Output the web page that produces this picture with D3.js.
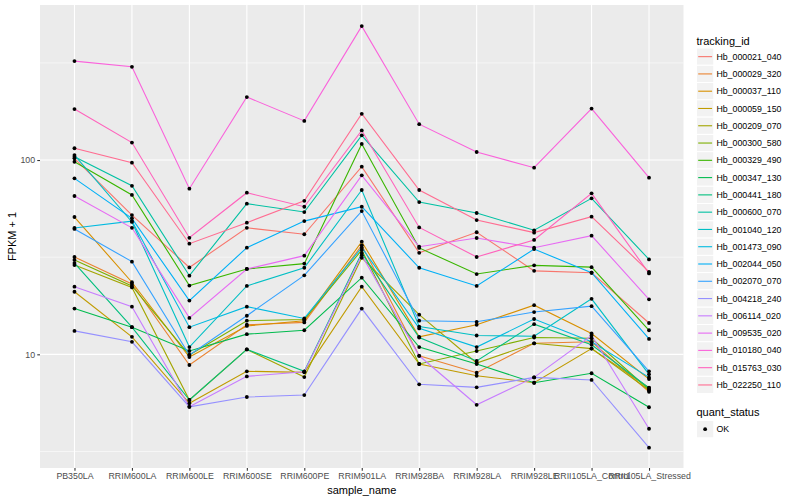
<!DOCTYPE html>
<html>
<head>
<meta charset="utf-8">
<script src="https://cdnjs.cloudflare.com/ajax/libs/d3/7.8.5/d3.min.js"></script>
<style>
  body { margin: 0; background: #fff; }
  text { font-family: "Liberation Sans", Arial, sans-serif; }
</style>
</head>
<body>
<div class="chart"></div>
<script>
// samples on the x axis
var samples = ["PB350LA", "RRIM600LA", "RRIM600LE", "RRIM600SE", "RRIM600PE", "RRIM901LA",
  "RRIM928BA", "RRIM928LA", "RRIM928LE", "RRII105LA_Control", "RRII105LA_Stressed"];

var trackingIds = ["Hb_000021_040", "Hb_000029_320", "Hb_000037_110", "Hb_000059_150",
  "Hb_000209_070", "Hb_000300_580", "Hb_000329_490", "Hb_000347_130", "Hb_000441_180",
  "Hb_000600_070", "Hb_001040_120", "Hb_001473_090", "Hb_002044_050", "Hb_002070_070",
  "Hb_004218_240", "Hb_006114_020", "Hb_009535_020", "Hb_010180_040", "Hb_015763_030",
  "Hb_022250_110"];

// FPKM + 1, one array per gene, in sample order
var hb_000021_040 = [102, 52.1, 28.0, 44.8, 41.5, 92.4, 33.3, 42.5, 26.9, 26.3, 14.5];
var hb_000029_320 = [31.7, 23.0, 8.81, 14.2, 14.6, 36.4, 9.83, 8.04, 11.4, 11.6, 6.42];
var hb_000037_110 = [50.9, 23.5, 9.69, 14.0, 14.9, 38.0, 12.3, 14.2, 17.9, 12.8, 7.46];
var hb_000059_150 = [21.0, 12.3, 5.60, 8.18, 8.08, 22.3, 8.92, 7.76, 7.14, 10.7, 6.73];
var hb_000209_070 = [28.8, 22.1, 5.82, 10.6, 7.64, 31.4, 16.0, 9.02, 11.4, 10.7, 6.53];
var hb_000300_580 = [30.6, 22.5, 9.92, 14.9, 15.1, 34.4, 8.92, 10.4, 12.2, 12.1, 6.57];
var hb_000329_490 = [98.0, 66.1, 22.6, 27.5, 29.3, 121, 35.3, 25.9, 28.7, 28.1, 13.3];
var hb_000347_130 = [17.2, 13.8, 10.4, 12.7, 13.3, 24.8, 10.9, 8.92, 7.14, 7.99, 5.34];
var hb_000441_180 = [29.5, 13.8, 5.82, 10.6, 8.18, 33.2, 12.2, 9.24, 14.3, 11.2, 6.71];
var hb_000600_070 = [104, 73.7, 25.4, 59.6, 54.0, 134, 60.8, 53.4, 43.5, 63.5, 30.8];
var hb_001040_120 = [106, 48.0, 10.9, 22.5, 27.9, 70.1, 13.9, 12.5, 12.4, 19.3, 7.89];
var hb_001473_090 = [44.7, 48.5, 13.8, 17.6, 15.3, 35.4, 13.6, 10.9, 15.2, 11.6, 7.61];
var hb_002044_050 = [80.5, 50.1, 18.9, 35.4, 48.5, 57.5, 27.9, 22.5, 34.8, 26.3, 12.0];
var hb_002070_070 = [44.2, 30.0, 9.92, 15.8, 25.5, 54.6, 14.9, 14.7, 16.5, 17.7, 8.18];
var hb_004218_240 = [13.2, 11.6, 5.37, 6.03, 6.17, 17.2, 7.01, 6.76, 7.61, 7.38, 3.31];
var hb_006114_020 = [22.3, 17.6, 5.37, 7.70, 8.14, 32.4, 9.83, 5.50, 7.61, 12.5, 4.14];
var hb_009535_020 = [65.3, 44.8, 15.4, 27.5, 32.2, 83.4, 35.8, 39.7, 35.4, 40.8, 19.2];
var hb_010180_040 = [323, 302, 71.2, 211, 159, 489, 153, 110, 91.3, 184, 81.1];
var hb_015763_030 = [183, 123, 39.8, 67.9, 57.5, 142, 45.0, 31.7, 38.8, 67.4, 26.1];
var hb_022250_110 = [115, 96.9, 37.1, 47.6, 61.7, 173, 70.1, 49.1, 42.3, 51.1, 26.6];

var seriesValues = [hb_000021_040, hb_000029_320, hb_000037_110, hb_000059_150, hb_000209_070,
  hb_000300_580, hb_000329_490, hb_000347_130, hb_000441_180, hb_000600_070, hb_001040_120,
  hb_001473_090, hb_002044_050, hb_002070_070, hb_004218_240, hb_006114_020, hb_009535_020,
  hb_010180_040, hb_015763_030, hb_022250_110];

var yMajor = [10, 100];
var yMinor = [3.162, 31.62, 316.2];

// ggplot hue palette, 20 levels
var palette = ["#F8766D", "#EA8331", "#D89000", "#C09B00", "#A3A500", "#7CAE00", "#39B600",
  "#00BB4E", "#00BF7D", "#00C1A3", "#00BFC4", "#00BAE0", "#00B0F6", "#35A2FF", "#9590FF",
  "#C77CFF", "#E76BF3", "#FA62DB", "#FF62BC", "#FF6C91"];

var svgWidth = 800;
var svgHeight = 500;
var margin = {top: 5, right: 116.5, bottom: 32, left: 40};
var width = svgWidth - margin.left - margin.right;
var height = svgHeight - margin.top - margin.bottom;

var svg = d3.select(".chart")
  .append("svg")
  .attr("width", svgWidth)
  .attr("height", svgHeight);

var chartGroup = svg.append("g")
  .attr("transform", `translate(${margin.left}, ${margin.top})`);

var xScale = d3.scalePoint()
  .domain(samples)
  .range([0, width])
  .padding(0.6);

var yScale = d3.scaleLog()
  .domain([2.6, 628])
  .range([height, 0]);

// panel background
chartGroup.append("rect")
  .attr("width", width)
  .attr("height", height)
  .attr("fill", "#EBEBEB");

// grid
chartGroup.selectAll(".minor")
  .data(yMinor)
  .enter()
  .append("line")
  .attr("x1", 0).attr("x2", width)
  .attr("y1", d => yScale(d)).attr("y2", d => yScale(d))
  .attr("stroke", "#fff")
  .attr("stroke-width", 0.55);

chartGroup.selectAll(".major")
  .data(yMajor)
  .enter()
  .append("line")
  .attr("x1", 0).attr("x2", width)
  .attr("y1", d => yScale(d)).attr("y2", d => yScale(d))
  .attr("stroke", "#fff")
  .attr("stroke-width", 1.1);

chartGroup.selectAll(".vgrid")
  .data(samples)
  .enter()
  .append("line")
  .attr("x1", d => xScale(d)).attr("x2", d => xScale(d))
  .attr("y1", 0).attr("y2", height)
  .attr("stroke", "#fff")
  .attr("stroke-width", 1.1);

// lines
var line = d3.line()
  .x((d, i) => xScale(samples[i]))
  .y(d => yScale(d));

chartGroup.selectAll(".series")
  .data(seriesValues)
  .enter()
  .append("path")
  .attr("d", d => line(d))
  .attr("fill", "none")
  .attr("stroke", (d, i) => palette[i])
  .attr("stroke-width", 1.1);

// points
seriesValues.forEach(function(vals) {
  chartGroup.append("g")
    .selectAll("circle")
    .data(vals)
    .enter()
    .append("circle")
    .attr("cx", (d, i) => xScale(samples[i]))
    .attr("cy", d => yScale(d))
    .attr("r", 1.9)
    .attr("fill", "#000");
});

// axes
var leftAxis = d3.axisLeft(yScale)
  .tickValues(yMajor)
  .tickFormat(d3.format("d"))
  .tickSize(2.74)
  .tickPadding(2.2);

var bottomAxis = d3.axisBottom(xScale)
  .tickSize(2.74)
  .tickPadding(2.2);

var yAxis = chartGroup.append("g").call(leftAxis);
var xAxis = chartGroup.append("g")
  .attr("transform", `translate(0, ${height})`)
  .call(bottomAxis);

[yAxis, xAxis].forEach(function(ax) {
  ax.select(".domain").remove();
  ax.selectAll(".tick line").attr("stroke", "#333").attr("stroke-width", 1.07);
  ax.selectAll(".tick text")
    .attr("fill", "#4D4D4D")
    .style("font-size", "8.8px")
    .style("font-family", "'Liberation Sans', Arial, sans-serif");
});

// axis titles
chartGroup.append("text")
  .attr("x", width / 2)
  .attr("y", height + 25.5)
  .attr("text-anchor", "middle")
  .style("font-size", "11px")
  .text("sample_name");

chartGroup.append("text")
  .attr("transform", "rotate(-90)")
  .attr("x", -height / 2)
  .attr("y", -24)
  .attr("text-anchor", "middle")
  .style("font-size", "11px")
  .text("FPKM + 1");

// legend
var legend = svg.append("g").attr("transform", "translate(696.5, 0)");
var keySize = 17.28;
var keyTop = 48;

legend.append("text")
  .attr("x", 0)
  .attr("y", 44.5)
  .style("font-size", "11px")
  .text("tracking_id");

var keys = legend.selectAll(".key")
  .data(trackingIds)
  .enter()
  .append("g")
  .attr("transform", (d, i) => `translate(0, ${keyTop + i * keySize})`);

keys.append("rect")
  .attr("width", keySize)
  .attr("height", keySize)
  .attr("fill", "#F2F2F2")
  .attr("stroke", "#fff")
  .attr("stroke-width", 1);

keys.append("line")
  .attr("x1", 1.7).attr("x2", keySize - 1.7)
  .attr("y1", keySize / 2).attr("y2", keySize / 2)
  .attr("stroke", (d, i) => palette[i])
  .attr("stroke-width", 1.1);

keys.append("text")
  .attr("x", keySize + 2.6)
  .attr("y", keySize / 2 + 3.1)
  .style("font-size", "8.8px")
  .text(d => d);

legend.append("text")
  .attr("x", 0)
  .attr("y", 416)
  .style("font-size", "11px")
  .text("quant_status");

var okKey = legend.append("g").attr("transform", "translate(0, 420.5)");
okKey.append("rect")
  .attr("width", keySize)
  .attr("height", keySize)
  .attr("fill", "#F2F2F2")
  .attr("stroke", "#fff");
okKey.append("circle")
  .attr("cx", keySize / 2)
  .attr("cy", keySize / 2)
  .attr("r", 1.9)
  .attr("fill", "#000");
okKey.append("text")
  .attr("x", keySize + 2.6)
  .attr("y", keySize / 2 + 3.1)
  .style("font-size", "8.8px")
  .text("OK");
</script>
</body>
</html>
